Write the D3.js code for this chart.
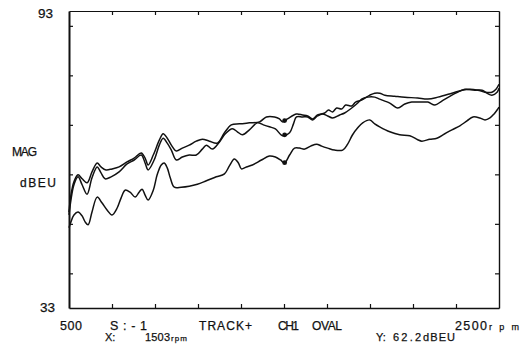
<!DOCTYPE html>
<html><head><meta charset="utf-8">
<script src="https://cdn.jsdelivr.net/npm/d3@7"></script>
<style>
html,body{margin:0;padding:0;background:#fff;}
svg{display:block;}
text{font-family:"Liberation Sans","DejaVu Sans",sans-serif;fill:#111;}
</style></head>
<body><svg id="c" width="526" height="347"></svg>
<script>
// ---- data ----
const xDomain = [500, 2500];   // rpm
const yDomain = [33, 93];      // dBEU
const xTicks = [700, 900, 1100, 1300, 1500, 1700, 1900, 2100, 2300];
const yTicks = [40, 50, 60, 70, 80, 90];
const cursorRpm = 1503;
const cursorDb = 62.2;

const rpmA = [500,509,523,542,561,584,607,631,649,672,700,733,770,803,836,854,868,892,920,938,957,976,999,1027,1059,1092,1120,1153,1190,1223,1255,1293,1339,1386,1418,1456,1479,1493,1516,1558,1586,1610,1633,1656,1689,1707,1726,1745,1768,1787,1815,1833,1861,1899,1922,1945,1969,2015,2062,2122,2169,2216,2281,2328,2365,2402,2435,2467,2486,2500];
const magA = [52.4,55.8,58.5,59.9,59.1,58.3,60.5,62.3,61.5,60.9,61.1,61.5,62.5,63.3,64.3,63.3,61.9,63.9,66.9,68.2,67.3,65.9,64.7,65.3,65.9,66.7,67.1,66.7,66.3,68.4,70.0,70.2,70.4,70.6,71.6,71.6,71.2,70.6,71.2,72.2,72.0,71.8,71.2,72.0,72.4,73.0,72.6,73.4,73.2,74.0,73.8,74.6,75.0,76.0,76.4,76.4,76.0,75.8,75.6,75.4,75.2,75.6,76.4,77.0,77.2,77.0,76.6,76.6,77.2,78.2];

const rpmB = [500,509,523,542,561,584,607,631,649,668,696,733,770,803,836,854,868,896,920,938,957,976,999,1027,1059,1092,1120,1139,1167,1199,1227,1260,1283,1307,1339,1376,1404,1432,1460,1493,1526,1544,1558,1586,1610,1633,1656,1679,1703,1726,1759,1782,1815,1843,1861,1889,1922,1945,1969,1992,2029,2062,2094,2132,2169,2202,2234,2281,2309,2341,2388,2421,2444,2467,2491,2500];
const magB = [51.8,54.8,57.9,59.5,57.9,56.0,59.3,61.5,60.3,59.1,59.5,60.5,62.1,62.9,63.9,62.3,60.9,62.9,65.9,67.3,66.3,64.9,62.9,63.5,63.9,63.9,65.1,65.9,65.1,66.5,68.2,69.2,68.6,68.0,69.0,70.4,70.0,69.6,69.2,67.8,68.4,70.2,71.6,71.6,71.6,71.0,71.8,72.2,71.8,71.4,72.0,72.4,73.4,74.4,75.2,75.6,75.6,75.2,74.8,74.4,73.4,74.2,74.6,74.6,74.6,74.0,74.8,76.0,76.6,77.2,77.0,77.0,76.4,76.0,76.6,77.4];

const rpmC = [500,509,523,542,561,575,589,607,631,654,677,700,724,742,761,784,808,826,840,854,868,892,910,929,943,957,971,990,1022,1059,1097,1139,1185,1223,1246,1269,1288,1302,1325,1353,1395,1432,1460,1484,1502,1526,1549,1572,1596,1624,1652,1675,1703,1735,1773,1796,1819,1843,1866,1899,1922,1945,1992,2038,2085,2122,2141,2178,2211,2248,2281,2318,2351,2379,2411,2435,2458,2477,2491,2500];
const magC = [49.2,50.4,51.8,52.4,51.6,50.4,49.8,52.4,55.4,54.2,52.8,51.8,53.2,55.2,56.8,56.4,55.4,56.4,57.0,55.8,54.8,56.8,59.9,61.9,62.3,61.3,59.3,57.4,57.4,57.6,58.0,58.7,59.5,60.1,61.7,63.1,62.3,61.1,61.5,61.9,62.9,63.7,63.5,62.9,62.3,63.9,65.3,65.3,65.1,65.7,66.1,65.7,65.3,64.9,64.9,66.1,68.0,69.4,70.4,71.0,70.2,69.6,68.6,68.0,67.8,67.0,66.7,67.1,67.3,68.2,69.0,69.8,70.8,71.6,71.4,71.0,71.4,72.2,73.0,73.6];

// ---- chart ----
const svg = d3.select("#c");
const L = 69, T = 11, R = 499, B = 308;
const x = d3.scaleLinear().domain(xDomain).range([L, R]);
const y = d3.scaleLinear().domain(yDomain).range([B, T]);

function styleAxis(g, w) {
  g.select(".domain").attr("stroke", "#111").attr("stroke-width", w);
  g.selectAll(".tick line").attr("stroke", "#111").attr("stroke-width", 1.2);
  g.selectAll(".tick text").remove();
}
svg.append("g").attr("transform", `translate(0,${B})`)
  .call(d3.axisBottom(x).tickValues(xTicks).tickSizeInner(-4).tickSizeOuter(0).tickFormat(""))
  .call(g => styleAxis(g, 1.5));
svg.append("g").attr("transform", `translate(0,${T})`)
  .call(d3.axisTop(x).tickValues(xTicks).tickSizeInner(-4).tickSizeOuter(0).tickFormat(""))
  .call(g => styleAxis(g, 1.1));
svg.append("g").attr("transform", `translate(${L},0)`)
  .call(d3.axisLeft(y).tickValues(yTicks).tickSizeInner(-4).tickSizeOuter(0).tickFormat(""))
  .call(g => styleAxis(g, 2));
svg.append("g").attr("transform", `translate(${R},0)`)
  .call(d3.axisRight(y).tickValues(yTicks).tickSizeInner(-4).tickSizeOuter(0).tickFormat(""))
  .call(g => styleAxis(g, 1.4));

const series = [[rpmA, magA], [rpmB, magB], [rpmC, magC]];
const line = d3.line().x(d => x(d[0])).y(d => y(d[1])).curve(d3.curveCatmullRom.alpha(0.5));
series.forEach(([r, m]) => {
  const pts = r.map((v, i) => [v, m[i]]);
  svg.append("path").datum(pts).attr("d", line)
    .attr("fill", "none").attr("stroke", "#111").attr("stroke-width", 1.5)
    .attr("stroke-linejoin", "round");
  const i = d3.bisectLeft(r, cursorRpm);
  const t = (cursorRpm - r[i - 1]) / (r[i] - r[i - 1]);
  const v = m[i - 1] + t * (m[i] - m[i - 1]);
  svg.append("circle").attr("cx", x(cursorRpm)).attr("cy", y(v)).attr("r", 2.4).attr("fill", "#111");
});

function txt(s, px, py, size, len) {
  const t = svg.append("text").attr("x", px).attr("y", py).attr("font-size", size)
    .attr("stroke", "#111").attr("stroke-width", 0.25).text(s);
  if (len) t.attr("textLength", len).attr("lengthAdjust", "spacing");
  return t;
}
txt(String(yDomain[1]), 38, 17.5, 13.5, 15);
txt(String(yDomain[0]), 40, 312, 13.5, 15);
txt("MAG", 12, 156, 12, 25);
txt("dBEU", 20, 187, 12, 36);

txt(String(xDomain[0]), 60, 329.5, 12.5, 22);
txt("S:-1", 110, 329.5, 12.5, 37);
txt("TRACK+", 199, 329.5, 12, 53);
txt("CH1", 278, 329.5, 12, 21);
txt("OVAL", 312, 329.5, 12, 30);
txt(String(xDomain[1]), 455, 329.5, 12.5, 32);
txt("rpm", 489, 329.5, 9, 30);

txt("X:", 105, 341, 11);
txt(String(cursorRpm), 145, 341, 11, 25);
txt("rpm", 171, 341, 8, 16);
txt("Y:", 376, 341, 11);
txt(cursorDb.toFixed(1), 393, 341, 11, 28);
txt("dBEU", 423, 341, 11, 32);
</script></body></html>
